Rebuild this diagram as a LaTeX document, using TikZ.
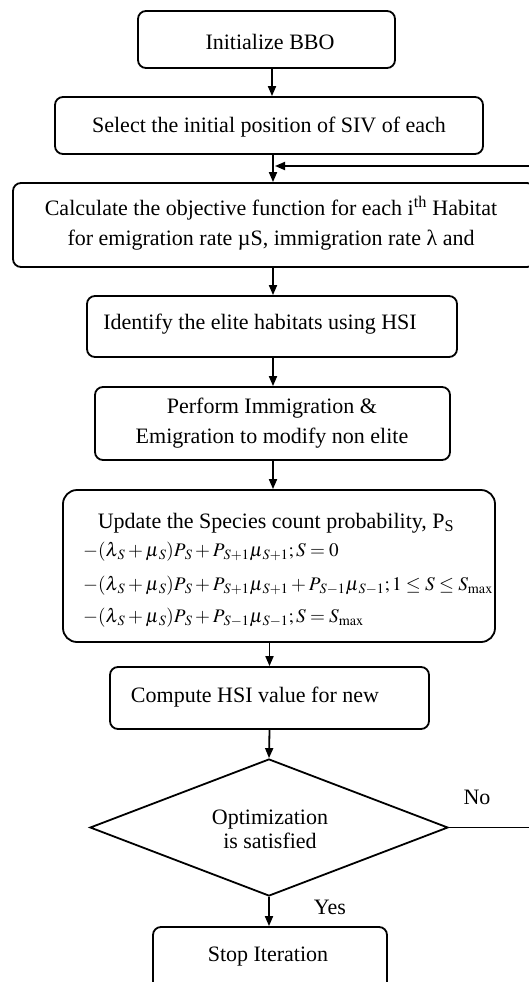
\documentclass[tikz,border=0pt]{standalone}
\usepackage{mathptmx}
\usepackage{fontspec}
\setmainfont{Liberation Serif}
\usetikzlibrary{arrows.meta,shapes.geometric}
% subscript with a small gap after the base letter
\newcommand{\subgap}[1]{_{\mkern2mu #1}}
\begin{document}
\begin{tikzpicture}[x=1pt,y=-1pt,
  box/.style={draw,line width=1.8pt,rounded corners=8pt,inner sep=0pt},
  lbl/.style={inner sep=0pt,font=\fontsize{22}{30}\selectfont,align=center},
  eq/.style={inner sep=0pt,anchor=west,font=\fontsize{19.2}{22}\selectfont},
  flow/.style={line width=1.8pt,-{Triangle[length=10pt,width=8pt]}}]
\useasboundingbox (0,0) rectangle (529,982);

% boxes
\node[box,minimum width=257pt,minimum height=57pt] (b1) at (266.5,39.5) {};
\node[box,minimum width=428pt,minimum height=57pt] (b2) at (269,125.5) {};
\node[box,minimum width=522pt,minimum height=84pt] (b3) at (274,225) {};
\node[box,minimum width=370pt,minimum height=61pt] (b4) at (272,326.5) {};
\node[box,minimum width=355pt,minimum height=73pt] (b5) at (272.5,423.5) {};
\node[box,rounded corners=14pt,minimum width=432pt,minimum height=152pt] (b6) at (279,566) {};
\node[box,minimum width=319pt,minimum height=62pt] (b7) at (269.5,698) {};
\node[draw,line width=1.8pt,diamond,inner sep=0pt,minimum width=358pt,minimum height=137pt] (dec) at (269,827.5) {};
\node[box,minimum width=234pt,minimum height=76pt] (stop) at (270,965) {};

% texts
\node[lbl] (t1) at (270,42) {Initialize BBO};
\node[lbl] (t2) at (269,127) {Select the initial position of SIV of each};
\node[lbl] (t3) at (271,223) {Calculate the objective function for each i\textsuperscript{th} Habitat\\for emigration rate µS, immigration rate λ and};
\node[lbl] (t4) at (260,324) {Identify the elite habitats using HSI};
\node[lbl] (t5) at (272,423) {Perform Immigration \&\\Emigration to modify non elite};
\node[lbl] (t6) at (276,523) {Update the Species count probability, P\textsubscript{S}};
\node[eq] (e1) at (83,552) {$-(\lambda\subgap{S}+\mu\subgap{S})P\subgap{S}+P\subgap{S+1}\mu\subgap{S+1};S=0$};
\node[eq] (e2) at (83,586) {$-(\lambda\subgap{S}+\mu\subgap{S})P\subgap{S}+P\subgap{S+1}\mu\subgap{S+1}+P\subgap{S-1}\mu\subgap{S-1};1\le S\le S_{\mathrm{max}}$};
\node[eq] (e3) at (83,618) {$-(\lambda\subgap{S}+\mu\subgap{S})P\subgap{S}+P\subgap{S-1}\mu\subgap{S-1};S=S_{\mathrm{max}}$};
\node[lbl] (t7) at (255,697) {Compute HSI value for new};
\node[lbl,font=\fontsize{22}{24}\selectfont] (td) at (270,829) {Optimization\\is satisfied};
\node[lbl] (no) at (477,797) {No};
\node[lbl] (yes) at (330,907) {Yes};
\node[lbl] (t8) at (268,957) {Stop Iteration};

% connectors
\coordinate (sp) at (272,0);
\coordinate (sq) at (273,0);
\draw[flow] (b1.south -| sp) -- (b2.north -| sp);
\draw[flow] (b2.south -| sq) -- (b3.north -| sq);
\coordinate (back) at (275,166);
\draw[flow] (dec.east) -- (540,827.5) -- (540,166) -- (back);
\draw[flow] (b3.south -| sq) -- (b4.north -| sq);
\draw[flow] (b4.south -| sq) -- (b5.north -| sq);
\draw[flow] (b5.south -| sq) -- (b6.north -| sq);
\draw[flow] (b6.south -| b7.south) -- (b7.north);
\draw[flow] (b7.south) -- (dec.north);
\draw[flow] (dec.south) -- (stop.north -| dec.south);
\end{tikzpicture}
\end{document}
